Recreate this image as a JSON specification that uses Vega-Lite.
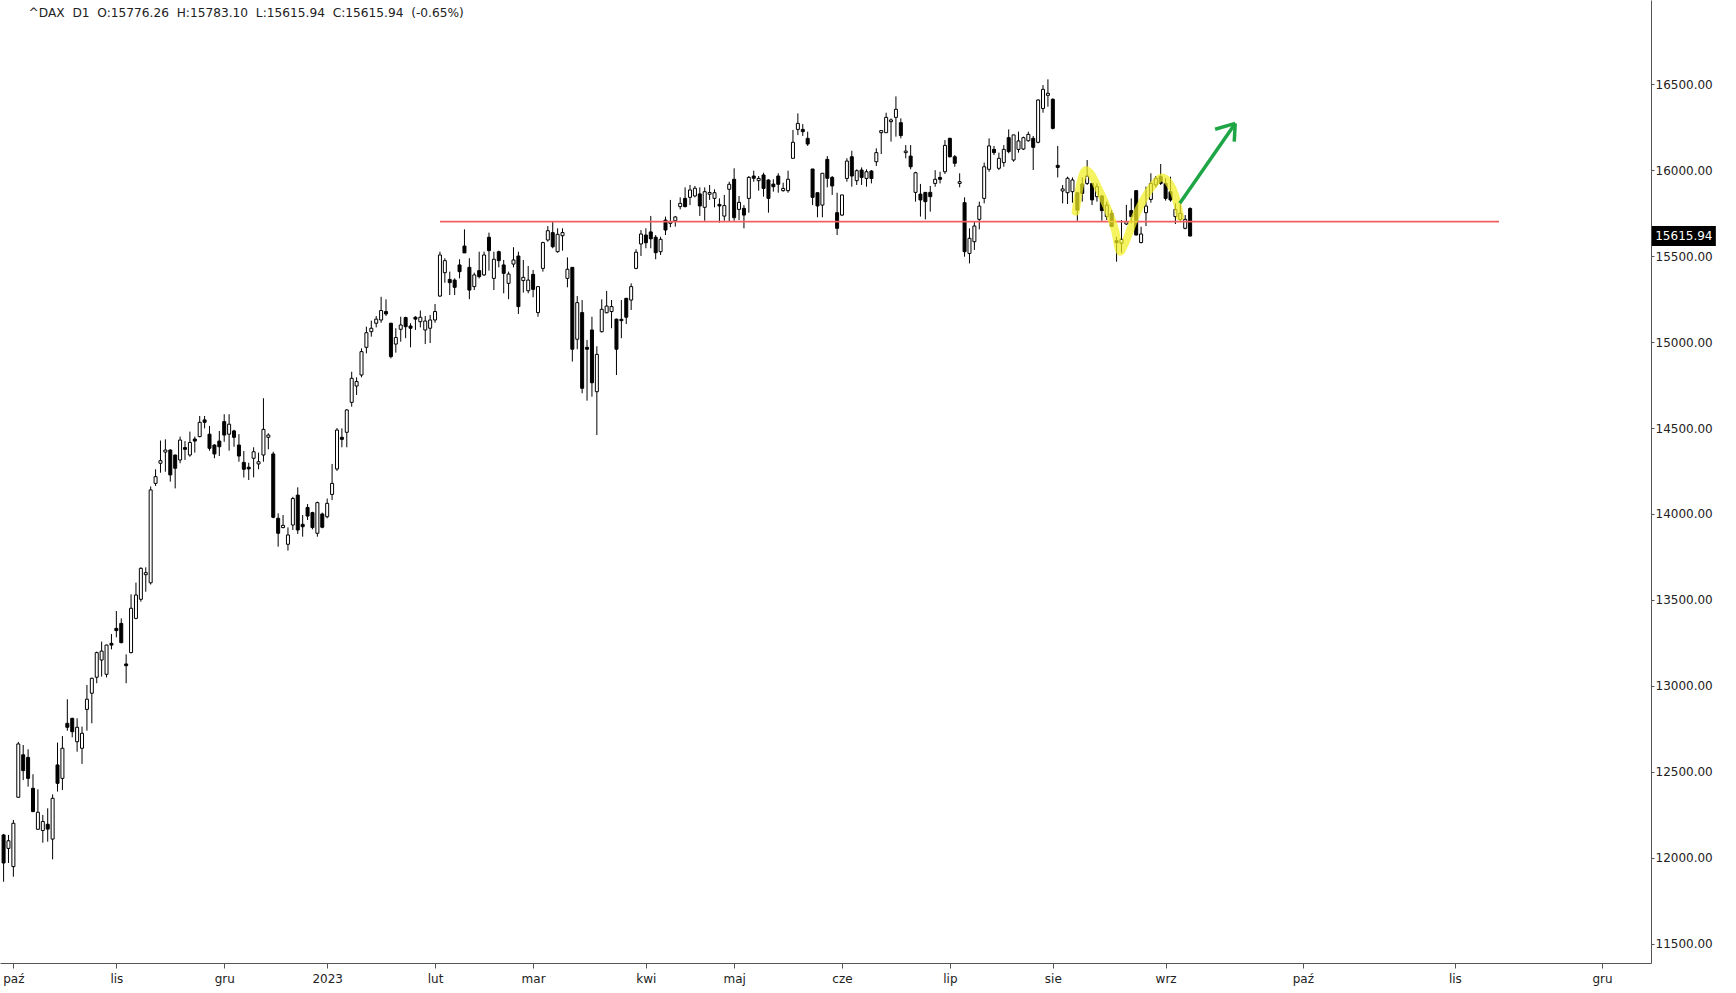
{
  "$schema": "https://vega.github.io/schema/vega-lite/v6.json",
  "width": 1651,
  "height": 963,
  "autosize": {"type": "none"},
  "padding": {"left": 0, "top": 0, "right": 85, "bottom": 30},
  "background": "white",
  "config": {"view": {"stroke": null}, "font": "DejaVu Sans"},
  "datasets": {
    "candles": [
      {"i":-2,"o":12134,"h":12140,"l":11862,"c":11971},
      {"i":-1,"o":12056,"h":12134,"l":11971,"c":12100},
      {"i":0,"o":11950,"h":12221,"l":11891,"c":12202},
      {"i":1,"o":12353,"h":12675,"l":12350,"c":12663},
      {"i":2,"o":12600,"h":12657,"l":12453,"c":12508},
      {"i":3,"o":12585,"h":12632,"l":12415,"c":12463},
      {"i":4,"o":12405,"h":12487,"l":12266,"c":12270},
      {"i":5,"o":12167,"h":12399,"l":12165,"c":12266},
      {"i":6,"o":12160,"h":12250,"l":12089,"c":12212},
      {"i":7,"o":12196,"h":12289,"l":12095,"c":12168},
      {"i":8,"o":12110,"h":12370,"l":11992,"c":12347},
      {"i":9,"o":12541,"h":12671,"l":12386,"c":12434},
      {"i":10,"o":12463,"h":12709,"l":12395,"c":12638},
      {"i":11,"o":12783,"h":12923,"l":12740,"c":12760},
      {"i":12,"o":12812,"h":12815,"l":12702,"c":12734},
      {"i":13,"o":12676,"h":12812,"l":12618,"c":12760},
      {"i":14,"o":12638,"h":12764,"l":12547,"c":12725},
      {"i":15,"o":12864,"h":13006,"l":12740,"c":12923},
      {"i":16,"o":12958,"h":13048,"l":12783,"c":13045},
      {"i":17,"o":13051,"h":13200,"l":13016,"c":13194},
      {"i":18,"o":13151,"h":13258,"l":13055,"c":13203},
      {"i":19,"o":13068,"h":13240,"l":13050,"c":13238},
      {"i":20,"o":13248,"h":13302,"l":13213,"c":13238},
      {"i":21,"o":13335,"h":13436,"l":13283,"c":13322},
      {"i":22,"o":13364,"h":13393,"l":13248,"c":13252},
      {"i":23,"o":13128,"h":13184,"l":13016,"c":13118},
      {"i":24,"o":13194,"h":13533,"l":13190,"c":13452},
      {"i":25,"o":13393,"h":13601,"l":13388,"c":13529},
      {"i":26,"o":13504,"h":13690,"l":13490,"c":13684},
      {"i":27,"o":13647,"h":13690,"l":13548,"c":13659},
      {"i":28,"o":13600,"h":14160,"l":13590,"c":14140},
      {"i":29,"o":14178,"h":14260,"l":14163,"c":14217},
      {"i":30,"o":14295,"h":14427,"l":14240,"c":14310},
      {"i":31,"o":14360,"h":14434,"l":14246,"c":14372},
      {"i":32,"o":14372,"h":14376,"l":14188,"c":14227},
      {"i":33,"o":14343,"h":14345,"l":14149,"c":14266},
      {"i":34,"o":14314,"h":14450,"l":14295,"c":14430},
      {"i":35,"o":14386,"h":14424,"l":14314,"c":14376},
      {"i":36,"o":14343,"h":14479,"l":14333,"c":14416},
      {"i":37,"o":14436,"h":14450,"l":14357,"c":14424},
      {"i":38,"o":14450,"h":14570,"l":14446,"c":14533},
      {"i":39,"o":14547,"h":14570,"l":14498,"c":14533},
      {"i":40,"o":14464,"h":14512,"l":14368,"c":14382},
      {"i":41,"o":14401,"h":14405,"l":14324,"c":14349},
      {"i":42,"o":14424,"h":14483,"l":14337,"c":14391},
      {"i":43,"o":14537,"h":14580,"l":14420,"c":14459},
      {"i":44,"o":14464,"h":14580,"l":14368,"c":14522},
      {"i":45,"o":14483,"h":14490,"l":14391,"c":14446},
      {"i":46,"o":14401,"h":14464,"l":14304,"c":14337},
      {"i":47,"o":14300,"h":14366,"l":14212,"c":14260},
      {"i":48,"o":14272,"h":14298,"l":14198,"c":14262},
      {"i":49,"o":14324,"h":14388,"l":14213,"c":14362},
      {"i":50,"o":14291,"h":14357,"l":14260,"c":14304},
      {"i":51,"o":14343,"h":14673,"l":14304,"c":14492},
      {"i":52,"o":14446,"h":14469,"l":14376,"c":14459},
      {"i":53,"o":14349,"h":14362,"l":13975,"c":13981},
      {"i":54,"o":13975,"h":14004,"l":13810,"c":13888},
      {"i":55,"o":13921,"h":13994,"l":13917,"c":13934},
      {"i":56,"o":13824,"h":13922,"l":13787,"c":13878},
      {"i":57,"o":13936,"h":14100,"l":13907,"c":14090},
      {"i":58,"o":14110,"h":14155,"l":13884,"c":13907},
      {"i":59,"o":13940,"h":13994,"l":13868,"c":13926},
      {"i":60,"o":14038,"h":14058,"l":13965,"c":13988},
      {"i":61,"o":14008,"h":14013,"l":13911,"c":13921},
      {"i":62,"o":13888,"h":14072,"l":13868,"c":14066},
      {"i":63,"o":14000,"h":14008,"l":13917,"c":13923},
      {"i":64,"o":13984,"h":14090,"l":13975,"c":14062},
      {"i":65,"o":14114,"h":14291,"l":14081,"c":14178},
      {"i":66,"o":14262,"h":14500,"l":14250,"c":14488},
      {"i":67,"o":14446,"h":14498,"l":14388,"c":14434},
      {"i":68,"o":14475,"h":14610,"l":14388,"c":14605},
      {"i":69,"o":14649,"h":14827,"l":14624,"c":14789},
      {"i":70,"o":14744,"h":14795,"l":14692,"c":14770},
      {"i":71,"o":14808,"h":14963,"l":14795,"c":14944},
      {"i":72,"o":14969,"h":15089,"l":14934,"c":15054},
      {"i":73,"o":15060,"h":15124,"l":15031,"c":15080},
      {"i":74,"o":15109,"h":15151,"l":15085,"c":15133},
      {"i":75,"o":15128,"h":15263,"l":15112,"c":15183},
      {"i":76,"o":15177,"h":15248,"l":15151,"c":15163},
      {"i":77,"o":15109,"h":15112,"l":14905,"c":14915},
      {"i":78,"o":14988,"h":15080,"l":14938,"c":15026},
      {"i":79,"o":15074,"h":15147,"l":15002,"c":15099},
      {"i":80,"o":15142,"h":15147,"l":15022,"c":15089},
      {"i":81,"o":15093,"h":15109,"l":14969,"c":15080},
      {"i":82,"o":15144,"h":15150,"l":15070,"c":15133},
      {"i":83,"o":15118,"h":15183,"l":15085,"c":15144},
      {"i":84,"o":15070,"h":15151,"l":14988,"c":15122},
      {"i":85,"o":15080,"h":15157,"l":14994,"c":15128},
      {"i":86,"o":15128,"h":15221,"l":15112,"c":15177},
      {"i":87,"o":15267,"h":15525,"l":15263,"c":15506},
      {"i":88,"o":15403,"h":15487,"l":15345,"c":15473},
      {"i":89,"o":15364,"h":15409,"l":15273,"c":15345},
      {"i":90,"o":15360,"h":15370,"l":15273,"c":15318},
      {"i":91,"o":15448,"h":15481,"l":15370,"c":15409},
      {"i":92,"o":15558,"h":15655,"l":15519,"c":15518},
      {"i":93,"o":15434,"h":15487,"l":15249,"c":15302},
      {"i":94,"o":15322,"h":15403,"l":15302,"c":15390},
      {"i":95,"o":15415,"h":15525,"l":15370,"c":15380},
      {"i":96,"o":15390,"h":15525,"l":15384,"c":15506},
      {"i":97,"o":15609,"h":15636,"l":15415,"c":15531},
      {"i":98,"o":15370,"h":15525,"l":15302,"c":15481},
      {"i":99,"o":15525,"h":15531,"l":15434,"c":15473},
      {"i":100,"o":15448,"h":15477,"l":15283,"c":15399},
      {"i":101,"o":15341,"h":15409,"l":15249,"c":15395},
      {"i":102,"o":15453,"h":15551,"l":15434,"c":15477},
      {"i":103,"o":15500,"h":15525,"l":15163,"c":15206},
      {"i":104,"o":15357,"h":15477,"l":15287,"c":15376},
      {"i":105,"o":15298,"h":15442,"l":15283,"c":15360},
      {"i":106,"o":15393,"h":15419,"l":15260,"c":15306},
      {"i":107,"o":15171,"h":15322,"l":15147,"c":15322},
      {"i":108,"o":15428,"h":15583,"l":15409,"c":15578},
      {"i":109,"o":15593,"h":15674,"l":15583,"c":15647},
      {"i":110,"o":15636,"h":15700,"l":15545,"c":15554},
      {"i":111,"o":15525,"h":15661,"l":15519,"c":15626},
      {"i":112,"o":15618,"h":15661,"l":15531,"c":15636},
      {"i":113,"o":15370,"h":15492,"l":15318,"c":15423},
      {"i":114,"o":15434,"h":15434,"l":14886,"c":14958},
      {"i":115,"o":15016,"h":15267,"l":14958,"c":15229},
      {"i":116,"o":15171,"h":15244,"l":14702,"c":14731},
      {"i":117,"o":14969,"h":15012,"l":14659,"c":14958},
      {"i":118,"o":15070,"h":15147,"l":14682,"c":14763},
      {"i":119,"o":14711,"h":14975,"l":14459,"c":14928},
      {"i":120,"o":15060,"h":15248,"l":15055,"c":15190},
      {"i":121,"o":15170,"h":15297,"l":15167,"c":15209},
      {"i":122,"o":15177,"h":15244,"l":15080,"c":15206},
      {"i":123,"o":15133,"h":15135,"l":14808,"c":14958},
      {"i":124,"o":15132,"h":15244,"l":15022,"c":15124},
      {"i":125,"o":15254,"h":15256,"l":15105,"c":15144},
      {"i":126,"o":15244,"h":15341,"l":15186,"c":15322},
      {"i":127,"o":15428,"h":15539,"l":15423,"c":15522},
      {"i":128,"o":15570,"h":15651,"l":15500,"c":15628},
      {"i":129,"o":15622,"h":15661,"l":15545,"c":15577},
      {"i":130,"o":15640,"h":15733,"l":15545,"c":15600},
      {"i":131,"o":15609,"h":15622,"l":15481,"c":15519},
      {"i":132,"o":15525,"h":15612,"l":15506,"c":15597},
      {"i":133,"o":15709,"h":15729,"l":15622,"c":15651},
      {"i":134,"o":15690,"h":15826,"l":15667,"c":15700},
      {"i":135,"o":15705,"h":15733,"l":15671,"c":15727},
      {"i":136,"o":15787,"h":15841,"l":15771,"c":15806},
      {"i":137,"o":15835,"h":15899,"l":15783,"c":15787},
      {"i":138,"o":15841,"h":15913,"l":15796,"c":15884},
      {"i":139,"o":15849,"h":15907,"l":15841,"c":15894},
      {"i":140,"o":15861,"h":15899,"l":15733,"c":15791},
      {"i":141,"o":15783,"h":15899,"l":15705,"c":15874},
      {"i":142,"o":15859,"h":15913,"l":15826,"c":15869},
      {"i":143,"o":15835,"h":15888,"l":15783,"c":15868},
      {"i":144,"o":15800,"h":15835,"l":15694,"c":15791},
      {"i":145,"o":15732,"h":15855,"l":15705,"c":15793},
      {"i":146,"o":15888,"h":15932,"l":15700,"c":15917},
      {"i":147,"o":15946,"h":16010,"l":15705,"c":15723},
      {"i":148,"o":15771,"h":15849,"l":15709,"c":15812},
      {"i":149,"o":15777,"h":15796,"l":15661,"c":15738},
      {"i":150,"o":15835,"h":15965,"l":15752,"c":15957},
      {"i":151,"o":15965,"h":15996,"l":15932,"c":15952},
      {"i":152,"o":15938,"h":15965,"l":15880,"c":15951},
      {"i":153,"o":15971,"h":15984,"l":15845,"c":15893},
      {"i":154,"o":15942,"h":15946,"l":15752,"c":15835},
      {"i":155,"o":15918,"h":15946,"l":15874,"c":15903},
      {"i":156,"o":15965,"h":15981,"l":15868,"c":15917},
      {"i":157,"o":15880,"h":15926,"l":15874,"c":15893},
      {"i":158,"o":15880,"h":15996,"l":15868,"c":15946},
      {"i":159,"o":16068,"h":16233,"l":16068,"c":16161},
      {"i":160,"o":16236,"h":16329,"l":16203,"c":16271},
      {"i":161,"o":16236,"h":16267,"l":16198,"c":16223},
      {"i":162,"o":16184,"h":16223,"l":16140,"c":16151},
      {"i":163,"o":16006,"h":16006,"l":15796,"c":15841},
      {"i":164,"o":15868,"h":15868,"l":15725,"c":15791},
      {"i":165,"o":15796,"h":15981,"l":15725,"c":15981},
      {"i":166,"o":16062,"h":16081,"l":15899,"c":15952},
      {"i":167,"o":15957,"h":15965,"l":15855,"c":15907},
      {"i":168,"o":15752,"h":15868,"l":15622,"c":15661},
      {"i":169,"o":15738,"h":15855,"l":15732,"c":15855},
      {"i":170,"o":15951,"h":16068,"l":15932,"c":16052},
      {"i":171,"o":16077,"h":16112,"l":15903,"c":15965},
      {"i":172,"o":15938,"h":16004,"l":15913,"c":15996},
      {"i":173,"o":16000,"h":16015,"l":15913,"c":15957},
      {"i":174,"o":15951,"h":16004,"l":15903,"c":15990},
      {"i":175,"o":15994,"h":16000,"l":15922,"c":15951},
      {"i":176,"o":16048,"h":16126,"l":16023,"c":16101},
      {"i":177,"o":16217,"h":16232,"l":16093,"c":16229},
      {"i":178,"o":16217,"h":16333,"l":16217,"c":16306},
      {"i":179,"o":16281,"h":16300,"l":16165,"c":16291},
      {"i":180,"o":16306,"h":16428,"l":16194,"c":16353},
      {"i":181,"o":16275,"h":16300,"l":16184,"c":16200},
      {"i":182,"o":16101,"h":16145,"l":16068,"c":16110},
      {"i":183,"o":16081,"h":16145,"l":16004,"c":16019},
      {"i":184,"o":15870,"h":15990,"l":15816,"c":15984},
      {"i":185,"o":15860,"h":15919,"l":15729,"c":15826},
      {"i":186,"o":15870,"h":15870,"l":15713,"c":15816},
      {"i":187,"o":15870,"h":15907,"l":15758,"c":15845},
      {"i":188,"o":15922,"h":15999,"l":15903,"c":15946},
      {"i":189,"o":15957,"h":15990,"l":15922,"c":15946},
      {"i":190,"o":15990,"h":16174,"l":15977,"c":16143},
      {"i":191,"o":16184,"h":16188,"l":16073,"c":16077},
      {"i":192,"o":16077,"h":16087,"l":16019,"c":16039},
      {"i":193,"o":15922,"h":15981,"l":15899,"c":15932},
      {"i":194,"o":15810,"h":15841,"l":15496,"c":15525},
      {"i":195,"o":15515,"h":15661,"l":15457,"c":15603},
      {"i":196,"o":15583,"h":15700,"l":15535,"c":15674},
      {"i":197,"o":15713,"h":15816,"l":15655,"c":15790},
      {"i":198,"o":15835,"h":16043,"l":15806,"c":16019},
      {"i":199,"o":16004,"h":16184,"l":15990,"c":16140},
      {"i":200,"o":16120,"h":16140,"l":16087,"c":16101},
      {"i":201,"o":16010,"h":16101,"l":16000,"c":16068},
      {"i":202,"o":16043,"h":16145,"l":16019,"c":16120},
      {"i":203,"o":16188,"h":16236,"l":16097,"c":16107},
      {"i":204,"o":16058,"h":16204,"l":16048,"c":16204},
      {"i":205,"o":16120,"h":16223,"l":16101,"c":16169},
      {"i":206,"o":16122,"h":16194,"l":16116,"c":16188},
      {"i":207,"o":16170,"h":16223,"l":16165,"c":16207},
      {"i":208,"o":16184,"h":16198,"l":16000,"c":16132},
      {"i":209,"o":16161,"h":16411,"l":16155,"c":16407},
      {"i":210,"o":16358,"h":16494,"l":16333,"c":16469},
      {"i":211,"o":16434,"h":16527,"l":16368,"c":16446},
      {"i":212,"o":16411,"h":16417,"l":16236,"c":16242},
      {"i":213,"o":16027,"h":16140,"l":15957,"c":16015},
      {"i":214,"o":15878,"h":15913,"l":15806,"c":15890},
      {"i":215,"o":15868,"h":15961,"l":15802,"c":15952},
      {"i":216,"o":15874,"h":15957,"l":15810,"c":15942},
      {"i":217,"o":15868,"h":15868,"l":15705,"c":15767},
      {"i":218,"o":15919,"h":15957,"l":15816,"c":15864},
      {"i":219,"o":15922,"h":16058,"l":15913,"c":15965},
      {"i":220,"o":15922,"h":15922,"l":15796,"c":15826},
      {"i":221,"o":15845,"h":15922,"l":15816,"c":15903},
      {"i":222,"o":15849,"h":15855,"l":15705,"c":15764},
      {"i":223,"o":15729,"h":15816,"l":15709,"c":15796},
      {"i":224,"o":15748,"h":15767,"l":15670,"c":15672},
      {"i":225,"o":15589,"h":15612,"l":15467,"c":15578},
      {"i":226,"o":15574,"h":15709,"l":15519,"c":15597},
      {"i":227,"o":15686,"h":15797,"l":15680,"c":15700},
      {"i":228,"o":15764,"h":15835,"l":15690,"c":15729},
      {"i":229,"o":15880,"h":15880,"l":15620,"c":15622},
      {"i":230,"o":15578,"h":15670,"l":15574,"c":15628},
      {"i":231,"o":15752,"h":15903,"l":15674,"c":15790},
      {"i":232,"o":15829,"h":15981,"l":15810,"c":15922},
      {"i":233,"o":15913,"h":15965,"l":15899,"c":15952},
      {"i":234,"o":15961,"h":16035,"l":15913,"c":15922},
      {"i":235,"o":15922,"h":15952,"l":15822,"c":15835},
      {"i":236,"o":15874,"h":15961,"l":15816,"c":15826},
      {"i":237,"o":15729,"h":15806,"l":15686,"c":15771},
      {"i":238,"o":15713,"h":15802,"l":15705,"c":15748},
      {"i":239,"o":15661,"h":15738,"l":15655,"c":15713},
      {"i":240,"o":15776.26,"h":15783.10,"l":15615.94,"c":15615.94}
    ],
    "level": [{"x": 87.0, "x2": 303.0, "y": 15700}],
    "zigzag": [
      {"x": 216.66, "y": 15758},
      {"x": 217.54, "y": 15913},
      {"x": 218.76, "y": 16000},
      {"x": 219.92, "y": 15971},
      {"x": 221.28, "y": 15893},
      {"x": 222.98, "y": 15787},
      {"x": 224.68, "y": 15651},
      {"x": 225.70, "y": 15525},
      {"x": 226.72, "y": 15574},
      {"x": 228.42, "y": 15700},
      {"x": 230.46, "y": 15826},
      {"x": 232.50, "y": 15913},
      {"x": 234.20, "y": 15957},
      {"x": 235.56, "y": 15932},
      {"x": 236.92, "y": 15855},
      {"x": 237.94, "y": 15729}
    ],
    "arrow": [
      {"seg": "shaft", "x": 237.9, "y": 15806},
      {"seg": "shaft", "x": 249.2, "y": 16271},
      {"seg": "head1", "x": 245.1, "y": 16237},
      {"seg": "head1", "x": 249.2, "y": 16271},
      {"seg": "head2", "x": 249.0, "y": 16165},
      {"seg": "head2", "x": 249.2, "y": 16271}
    ],
    "last": [{"x": 340.7, "y": 15615.94, "t": "15615.94"}],
    "header": [{"x": 3.1, "y": 16913, "t": "^DAX\u00a0\u00a0D1\u00a0\u00a0O:15776.26\u00a0\u00a0H:15783.10\u00a0\u00a0L:15615.94\u00a0\u00a0C:15615.94\u00a0\u00a0(-0.65%)"}]
  },
  "layer": [
    {
      "data": {"name": "candles"},
      "mark": {"type": "rule", "color": "black", "strokeWidth": 1},
      "encoding": {
        "x": {
          "field": "i", "type": "quantitative",
          "scale": {"domain": [-2.73, 334.0], "nice": false, "zero": false, "padding": 0},
          "axis": {
            "orient": "bottom",
            "values": [0, 21, 43, 64, 86, 106, 129, 147, 169, 191, 212, 235, 263, 294, 324],
            "labelExpr": "['paź','lis','gru','2023','lut','mar','kwi','maj','cze','lip','sie','wrz','paź','lis','gru'][indexof([0,21,43,64,86,106,129,147,169,191,212,235,263,294,324], datum.value)]",
            "title": null, "grid": false,
            "domainColor": "#555555", "tickColor": "#555555",
            "tickSize": 5, "labelPadding": 5,
            "labelFontSize": 12, "labelColor": "#222222",
            "labelFont": "DejaVu Sans",
            "labelFlush": false, "labelOverlap": false
          }
        },
        "y": {
          "field": "l", "type": "quantitative",
          "scale": {"domain": [11389.5, 16988.4], "nice": false, "zero": false, "padding": 0},
          "axis": {
            "orient": "right",
            "values": [11500, 12000, 12500, 13000, 13500, 14000, 14500, 15000, 15500, 16000, 16500],
            "format": ".2f",
            "title": null, "grid": false,
            "domainColor": "#555555", "tickColor": "#555555",
            "tickSize": 3, "labelPadding": 1,
            "labelFontSize": 12, "labelColor": "#222222",
            "labelFont": "DejaVu Sans"
          }
        },
        "y2": {"field": "h"}
      }
    },
    {
      "data": {"name": "candles"},
      "mark": {"type": "bar", "width": 3, "stroke": "black", "strokeWidth": 1},
      "encoding": {
        "x": {"field": "i", "type": "quantitative"},
        "y": {"field": "o", "type": "quantitative"},
        "y2": {"field": "c"},
        "fill": {"condition": {"test": "datum.c >= datum.o", "value": "white"}, "value": "black"}
      }
    },
    {
      "data": {"name": "level"},
      "mark": {"type": "rule", "color": "#f06060", "strokeWidth": 1.6},
      "encoding": {
        "x": {"field": "x", "type": "quantitative"},
        "x2": {"field": "x2"},
        "y": {"field": "y", "type": "quantitative"}
      }
    },
    {
      "data": {"name": "zigzag"},
      "mark": {"type": "line", "color": "#f3ee22", "opacity": 0.72, "strokeWidth": 8, "strokeCap": "round", "strokeJoin": "round", "interpolate": "monotone"},
      "encoding": {
        "x": {"field": "x", "type": "quantitative"},
        "y": {"field": "y", "type": "quantitative"}
      }
    },
    {
      "data": {"name": "arrow"},
      "mark": {"type": "line", "color": "#1ea646", "strokeWidth": 3.5, "strokeCap": "butt"},
      "encoding": {
        "x": {"field": "x", "type": "quantitative"},
        "y": {"field": "y", "type": "quantitative"},
        "detail": {"field": "seg", "type": "nominal"}
      }
    },
    {
      "data": {"name": "last"},
      "mark": {"type": "point", "shape": "M-1,-0.3125H1V0.3125H-1Z", "size": 4096, "filled": true, "color": "black", "opacity": 1, "clip": false},
      "encoding": {
        "x": {"field": "x", "type": "quantitative"},
        "y": {"field": "y", "type": "quantitative"}
      }
    },
    {
      "data": {"name": "last"},
      "mark": {"type": "text", "color": "white", "fontSize": 12, "font": "DejaVu Sans", "align": "center", "baseline": "middle", "clip": false},
      "encoding": {
        "x": {"field": "x", "type": "quantitative"},
        "y": {"field": "y", "type": "quantitative"},
        "text": {"field": "t"}
      }
    },
    {
      "data": {"name": "header"},
      "mark": {"type": "text", "color": "#222222", "fontSize": 12.2, "font": "DejaVu Sans", "align": "left", "baseline": "middle"},
      "encoding": {
        "x": {"field": "x", "type": "quantitative"},
        "y": {"field": "y", "type": "quantitative"},
        "text": {"field": "t"}
      }
    }
  ]
}
